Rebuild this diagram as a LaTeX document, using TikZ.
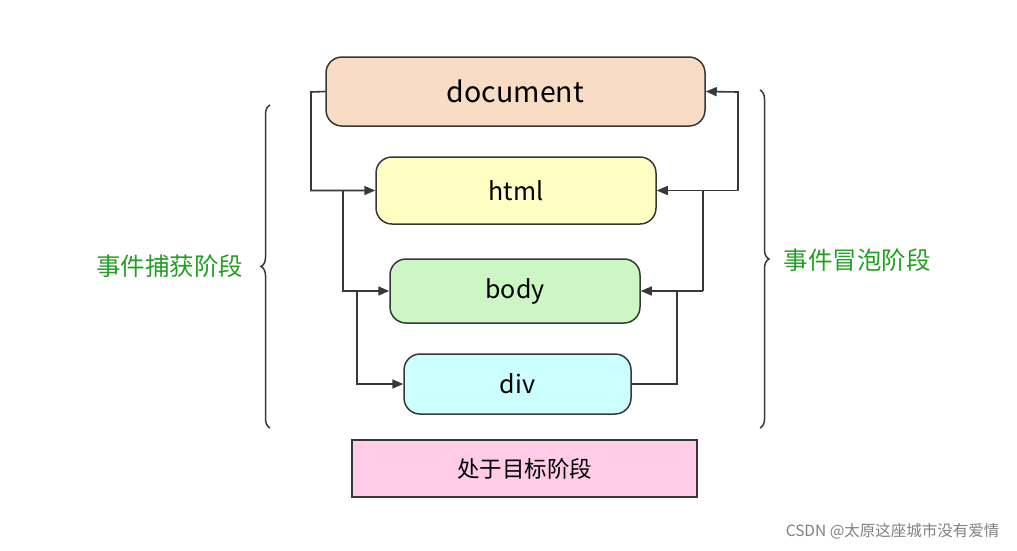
\documentclass[tikz,border=0pt]{standalone}
\usepackage{fontspec}
\setmainfont{Noto Sans CJK SC}
\usetikzlibrary{decorations.pathreplacing,arrows.meta}
\definecolor{peach}{HTML}{F9DCC4}
\definecolor{yel}{HTML}{FFFFC4}
\definecolor{grn}{HTML}{CCF7C4}
\definecolor{cya}{HTML}{CCFFFF}
\definecolor{pnk}{HTML}{FFCCE8}
\definecolor{lab}{HTML}{22A022}
\definecolor{edge}{HTML}{383838}
\tikzset{
 elem/.style={draw=edge,line width=1.5pt,rounded corners=16pt,inner sep=0pt,font=\fontsize{25}{27}\selectfont},
 conn/.style={draw=edge,line width=1.6pt,-{Triangle[length=11pt,width=9pt]}},
 plain/.style={draw=edge,line width=1.6pt},
 brc/.style={draw=edge,line width=1.5pt,decorate,decoration={brace,amplitude=9pt}},
 phase/.style={text=lab,font=\fontsize{24.5}{26}\selectfont}
}
\begin{document}
\begin{tikzpicture}[x=1pt,y=-1pt]
\useasboundingbox (0,0) rectangle (1017,550);
\node[elem,fill=peach,minimum width=379pt,minimum height=69pt,font=\fontsize{28.5}{30}\selectfont] (doc) at (515.5,91.5) {document};
\node[elem,fill=yel,minimum width=280pt,minimum height=67pt] (html) at (516,190.5) {html};
\node[elem,fill=grn,minimum width=250pt,minimum height=64pt] (body) at (515,291) {body};
\node[elem,fill=cya,minimum width=227pt,minimum height=60pt] (div) at (517.5,384) {div};
\node[draw=edge,line width=1.5pt,fill=pnk,minimum width=345pt,minimum height=57pt,inner sep=0pt,font=\fontsize{22.5}{24}\selectfont] (tgt) at (524.5,468.5) {处于目标阶段};
% capture
\coordinate (c1) at (311,92);
\coordinate (c2) at (311,190.5);
\coordinate (c3) at (343,190.5);
\coordinate (c4) at (343,291);
\coordinate (c5) at (357,291);
\coordinate (c6) at (357,384);
\draw[conn] (doc.west) -- (c1) -- (c2) -- (html.west);
\draw[conn] (c3) -- (c4) -- (body.west);
\draw[conn] (c5) -- (c6) -- (div.west);
% bubble
\coordinate (b1) at (677,384);
\coordinate (b2) at (677,291);
\coordinate (b3) at (703,291);
\coordinate (b4) at (703,190.5);
\coordinate (b5) at (738,190.5);
\coordinate (b6) at (738,92);
\draw[plain] (div.east) -- (b1) -- (b2);
\draw[conn] (b3) -- (body.east);
\draw[plain] (b3) -- (b4);
\draw[conn] (b5) -- (html.east);
\draw[conn] (b5) -- (b6) -- (doc.east);
% braces
\coordinate (l1) at (270,428);
\coordinate (l2) at (270,105);
\coordinate (r1) at (760,90);
\coordinate (r2) at (760,428);
\draw[brc] (l1) -- (l2);
\draw[brc] (r1) -- (r2);
\node[phase,anchor=east] (cap) at (247,266) {事件捕获阶段};
\node[phase,anchor=west] (bub) at (780,260) {事件冒泡阶段};
\node[text=gray,anchor=east,font=\fontsize{15.5}{17}\selectfont] (csdn) at (1003,531) {CSDN @太原这座城市没有爱情};
\end{tikzpicture}
\end{document}
